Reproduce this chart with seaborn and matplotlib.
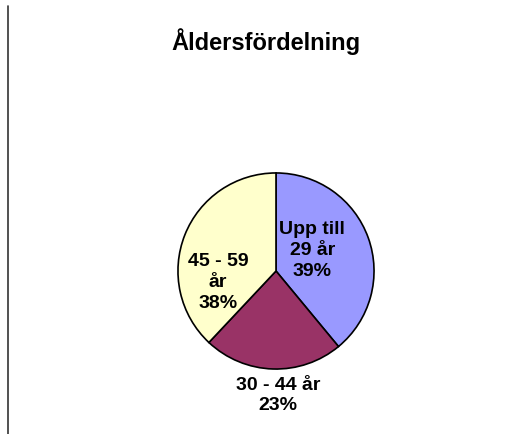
import numpy as np
import seaborn as sns
import matplotlib.pyplot as plt
from matplotlib.lines import Line2D

labels = ['Upp till\n29 år', '30 - 44 år', '45 - 59\når']
shares = [39, 23, 38]
colors = ['#9999FF', '#993366', '#FFFFCC']

sns.set_theme(style="white")
plt.rcParams['font.family'] = ['Liberation Sans', 'DejaVu Sans']

fig = plt.figure(figsize=(5.13, 4.35), dpi=100)
W, H = 513, 435
cx, cy, r = 276, 272, 100
ax = fig.add_axes([(cx - r) / W, (H - cy - r) / H, 2 * r / W, 2 * r / H])

pal = sns.color_palette(colors)
wedges, texts = ax.pie(shares, colors=pal, startangle=90, counterclock=False,
                       labels=[f'{l}\n{s}%' for l, s in zip(labels, shares)],
                       wedgeprops=dict(edgecolor='black', linewidth=1.2),
                       textprops=dict(fontsize=14, fontweight='bold', color='black',
                                      ha='center', va='center', linespacing=1.3))
# label spots as placed in the original
label_pos = [(0.37, 0.22), (0.02, -1.26), (-0.59, -0.11)]
for t, p in zip(texts, label_pos):
    t.set_position(p)
    t.set_horizontalalignment('center')
    t.set_verticalalignment('center')
ax.set_xlim(-1.02, 1.02)
ax.set_ylim(-1.02, 1.02)
ax.set_aspect('equal')

fig.text(266 / W, 1 - 42 / H, 'Åldersfördelning', ha='center', va='center',
         fontsize=17, fontweight='bold', color='black')
fig.add_artist(Line2D([8 / W, 8 / W], [0, 1 - 7 / H], transform=fig.transFigure,
                      color='#333333', linewidth=1.2))

plt.savefig('out.png', dpi=100)
